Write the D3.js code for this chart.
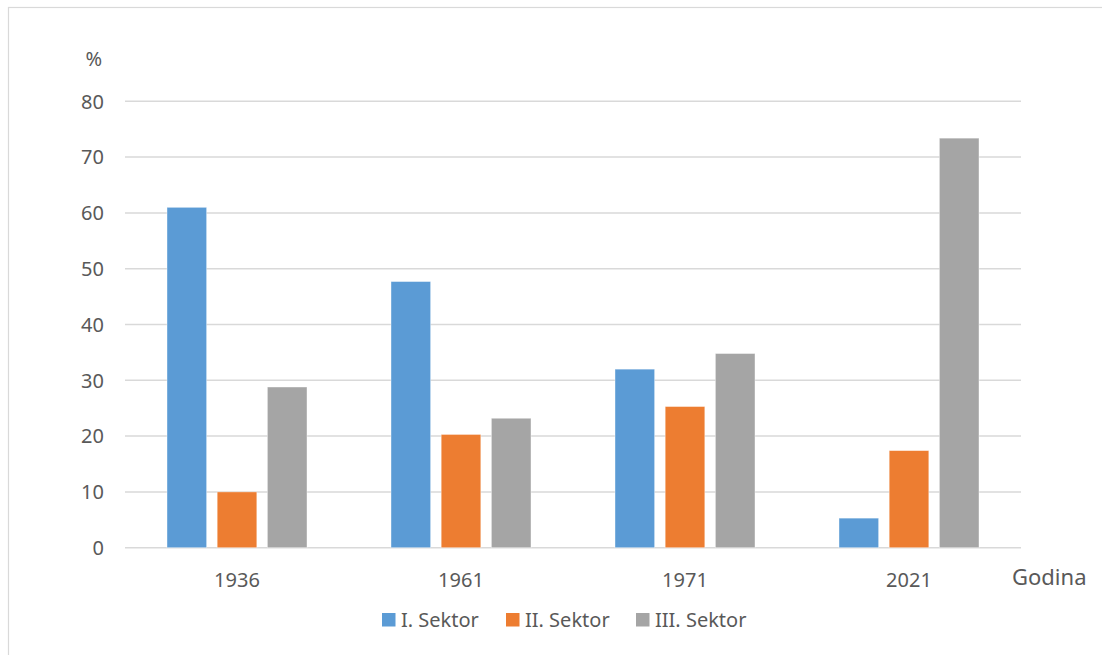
<!DOCTYPE html>
<html><head><meta charset="utf-8">
<script src="https://cdn.jsdelivr.net/npm/d3@7"></script>
<style>
html,body{margin:0;padding:0;background:#fff;}
svg{display:block;}
text{font-family:"Noto Sans","Open Sans",sans-serif;fill:#595959;}
</style></head>
<body>
<svg id="chart" width="1102" height="655"></svg>
<script>
const categories = ["1936", "1961", "1971", "2021"];
const seriesNames = ["I. Sektor", "II. Sektor", "III. Sektor"];
const sektor1 = [61.0, 47.7, 32.0, 5.3];
const sektor2 = [10.0, 20.3, 25.3, 17.4];
const sektor3 = [28.8, 23.2, 34.8, 73.4];
const yTicks = [0, 10, 20, 30, 40, 50, 60, 70, 80];
const colors = ["#5B9BD5", "#ED7D31", "#A5A5A5"];

const series = [sektor1, sektor2, sektor3];
const svg = d3.select("#chart");

// outer border
svg.append("rect").attr("x", 8.5).attr("y", 7.5).attr("width", 1110).attr("height", 660)
  .attr("fill", "none").attr("stroke", "#d9d9d9").attr("stroke-width", 1.2);

const plotLeft = 125, plotRight = 1021, plotTop = 101.3, plotBottom = 547.7;
const y = d3.scaleLinear().domain([0, 80]).range([plotBottom, plotTop]);
const x0 = d3.scaleBand().domain(categories).range([plotLeft, plotRight]).padding(0);
const groupW = 140;
const x1 = d3.scaleBand().domain(d3.range(3))
  .range([(x0.bandwidth() - groupW) / 2, (x0.bandwidth() + groupW) / 2])
  .paddingInner(0.21).paddingOuter(0);

// gridlines
svg.append("g").selectAll("line").data(yTicks).join("line")
  .attr("x1", plotLeft).attr("x2", plotRight)
  .attr("y1", d => y(d)).attr("y2", d => y(d))
  .attr("stroke", "#d9d9d9").attr("stroke-width", 1.5);

// y tick labels
svg.append("g").selectAll("text").data(yTicks).join("text")
  .attr("x", 104).attr("y", d => y(d)).attr("dy", "0.36em")
  .attr("text-anchor", "end").attr("font-size", 20)
  .text(d => d);

svg.append("text").attr("x", 102).attr("y", 59).attr("dy", "0.36em")
  .attr("text-anchor", "end").attr("font-size", 20).text("%");

// bars
const g = svg.append("g");
categories.forEach((c, i) => {
  series.forEach((s, j) => {
    g.append("rect")
      .attr("x", x0(c) + x1(j))
      .attr("y", y(s[i]))
      .attr("width", x1.bandwidth())
      .attr("height", y(0) - y(s[i]))
      .attr("fill", colors[j])
      .attr("stroke", "#ffffff").attr("stroke-opacity", 0.5).attr("stroke-width", 0.8);
  });
});

// x category labels
svg.append("g").selectAll("text").data(categories).join("text")
  .attr("x", d => x0(d) + x0.bandwidth() / 2).attr("y", 580).attr("dy", "0.36em")
  .attr("text-anchor", "middle").attr("font-size", 20).text(d => d);

svg.append("text").attr("x", 1012).attr("y", 577).attr("dy", "0.36em")
  .attr("font-size", 22).text("Godina");

// legend
const legendX = [382, 506, 636];
const lg = svg.append("g");
seriesNames.forEach((n, j) => {
  lg.append("rect").attr("x", legendX[j]).attr("y", 613).attr("width", 13.5).attr("height", 13.5)
    .attr("fill", colors[j]);
  lg.append("text").attr("x", legendX[j] + 19).attr("y", 620).attr("dy", "0.36em")
    .attr("font-size", 20).text(n);
});
</script>
</body></html>
